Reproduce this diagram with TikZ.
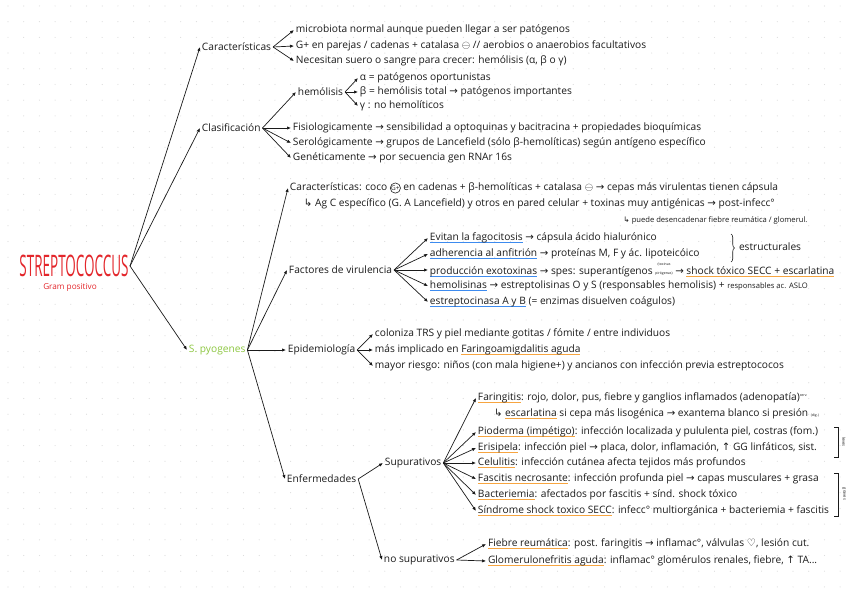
\documentclass[tikz,border=0pt]{standalone}
\usepackage{fontspec}
\setmainfont{Open Sans}
\newfontfamily\symfont{DejaVu Sans}
\usetikzlibrary{arrows.meta,decorations.pathreplacing}
\definecolor{strepRed}{HTML}{E3262B}
\definecolor{pyoGreen}{HTML}{8CC63F}
\definecolor{ulBlue}{HTML}{3D8BEF}
\definecolor{ulOrange}{HTML}{F7A540}
\definecolor{dotGrey}{HTML}{DDDDDD}
\definecolor{inkBlack}{HTML}{1A1A1A}
\newcommand{\ulmark}[2]{\setbox0\hbox{#2}\leavevmode\rlap{\color{#1}\rule[-2.4pt]{\wd0}{1.1pt}}\box0\relax}
\newcommand{\ub}[1]{\ulmark{ulBlue}{#1}}
\newcommand{\uo}[1]{\ulmark{ulOrange}{#1}}
\newcommand{\ra}{{\symfont →}}
\newcommand{\hk}{{\symfont ↳}}
\newcommand{\upa}{{\symfont ↑}}
\newcommand{\gpos}{\tikz[baseline=(gp.base)]\node[draw,circle,inner sep=0.2pt,line width=0.5pt,font=\fontsize{5.5}{5.5}\selectfont](gp){G+};}
\tikzset{
  mapnode/.style={font=\fontsize{8.7}{10}\selectfont, text=inkBlack, anchor=west, inner sep=1.5pt},
  smallnote/.style={font=\fontsize{6.5}{7}\selectfont, text=inkBlack, anchor=west, inner sep=1pt},
  tinynote/.style={font=\fontsize{3.5}{4}\selectfont, text=inkBlack, inner sep=0.5pt},
  maparrow/.style={-{Latex[length=1.2mm,width=1mm]}, line width=0.6pt, draw=inkBlack},
}

\begin{document}
\begin{tikzpicture}[x=0.03cm,y=-0.03cm]
  \useasboundingbox (0,0) rectangle (848,599);
  % dotted notebook page
  \foreach \i in {0,...,53} {
    \foreach \j in {0,...,37} {
      \fill[dotGrey] (8+\i*15.7, 6+\j*15.7) circle (0.6);
    }
  }

  % Root
  \node[anchor=east, inner sep=1pt, text=strepRed] (strep) at (130,266) {\scalebox{0.5}[1.1]{\fontsize{23}{23}\selectfont STREPTOCOCCUS}};
  \node[font=\fontsize{7}{8}\selectfont, text=strepRed] (gram) at (70,287) {Gram positivo};

  % Características
  \node[mapnode] (car) at (200,47) {Características};
  \node[mapnode] (car1) at (294,30) {microbiota normal aunque pueden llegar a ser patógenos};
  \node[mapnode] (car2) at (294,46) {G+ en parejas / cadenas + catalasa $\ominus$ // aerobios o anaerobios facultativos};
  \node[mapnode] (car3) at (294,61) {Necesitan suero o sangre para crecer: hemólisis (α, β o γ)};

  % Clasificación
  \node[mapnode] (clas) at (200,128) {Clasificación};
  \node[mapnode] (hemo) at (296,92) {hemólisis};
  \node[mapnode] (ha) at (358,78) {α = patógenos oportunistas};
  \node[mapnode] (hb) at (358,92) {β = hemólisis total \ra{} patógenos importantes};
  \node[mapnode] (hg) at (358,106) {γ : no hemolíticos};
  \node[mapnode] (fis) at (291,128) {Fisiologicamente \ra{} sensibilidad a optoquinas y bacitracina + propiedades bioquímicas};
  \node[mapnode] (sero) at (291,143) {Serológicamente \ra{} grupos de Lancefield (sólo β-hemolíticas) según antígeno específico};
  \node[mapnode] (gen) at (291,158) {Genéticamente \ra{} por secuencia gen RNAr 16s};

  % S. pyogenes
  \node[mapnode, text=pyoGreen] (pyo) at (187,350) {S. pyogenes};
  \node[mapnode] (pcar) at (288,188) {Características: coco \gpos{} en cadenas + β-hemolíticas + catalasa $\ominus$ \ra{} cepas más virulentas tienen cápsula};
  \node[mapnode] (pag) at (302,204) {\hk{} Ag C específico (G. A Lancefield) y otros en pared celular + toxinas muy antigénicas \ra{} post-infecc°};
  \node[smallnote] (pdes) at (622,220) {\hk{} puede desencadenar fiebre reumática / glomerul.};

  % Factores de virulencia
  \node[mapnode] (fact) at (287,270) {Factores de virulencia};
  \node[mapnode] (fv1) at (428,238) {\ub{Evitan la fagocitosis} \ra{} cápsula ácido hialurónico};
  \node[mapnode] (fv2) at (428,254) {\ub{adherencia al anfitrión} \ra{} proteínas M, F y ác. lipoteicóico};
  \node[mapnode] (fv3) at (428,270) {\ub{producción exotoxinas} \ra{} spes: superantígenos {\fontsize{3}{3.5}\selectfont\shortstack{(toxinas\\[1.3pt]pirógenas)}} \ra{} \uo{shock tóxico SECC + escarlatina}};
  \node[mapnode] (fv4) at (428,286) {\ub{hemolisinas} \ra{} estreptolisinas O y S (responsables hemolisis) + {\fontsize{6.5}{7}\selectfont responsables ac. ASLO}};
  \node[mapnode] (fv5) at (428,302) {\ub{estreptocinasa A y B} (= enzimas disuelven coágulos)};
  \draw[decorate, decoration={brace, amplitude=3pt}, line width=0.5pt, draw=inkBlack] (731,234) -- (731,262);
  \node[mapnode] (estr) at (737,247) {estructurales};

  % Epidemiología
  \node[mapnode] (epi) at (286,350) {Epidemiología};
  \node[mapnode] (ep1) at (373,334) {coloniza TRS y piel mediante gotitas / fómite / entre individuos};
  \node[mapnode] (ep2) at (373,350) {más implicado en \uo{Faringoamigdalitis aguda}};
  \node[mapnode] (ep3) at (373,366) {mayor riesgo: niños (con mala higiene+) y ancianos con infección previa estreptococos};

  % Enfermedades
  \node[mapnode] (enf) at (285,479) {Enfermedades};
  \node[mapnode] (sup) at (383,463) {Supurativos};
  \node[mapnode] (sp1) at (476,398) {\uo{Faringitis}: rojo, dolor, pus, fiebre y ganglios inflamados (adenopatía)\textsuperscript{\fontsize{3}{3}\selectfont cerv.}};
  \node[mapnode] (sp1b) at (492,414) {\hk{} \uo{escarlatina} si cepa más lisogénica \ra{} exantema blanco si presión {\fontsize{3}{3}\selectfont (dig.)}};
  \node[mapnode] (sp2) at (476,432) {\uo{Pioderma (impétigo)}: infección localizada y pululenta piel, costras (fom.)};
  \node[mapnode] (sp3) at (476,448) {\uo{Erisipela}: infección piel \ra{} placa, dolor, inflamación, \upa{} GG linfáticos, sist.};
  \node[mapnode] (sp4) at (476,463) {\uo{Celulitis}: infección cutánea afecta tejidos más profundos};
  \node[mapnode] (sp5) at (476,479) {\uo{Fascitis necrosante}: infección profunda piel \ra{} capas musculares + grasa};
  \node[mapnode] (sp6) at (476,495) {\uo{Bacteriemia}: afectados por fascitis + sínd. shock tóxico};
  \node[mapnode] (sp7) at (476,511) {\uo{Síndrome shock toxico SECC}: infecc° multiorgánica + bacteriemia + fascitis};
  \draw[line width=0.5pt, draw=inkBlack] (834,427) -- (838,427) -- (838,457) -- (834,457);
  \draw[line width=0.5pt, draw=inkBlack] (834,473) -- (838,473) -- (838,516) -- (834,516);
  \node[tinynote, rotate=-90] (lev) at (844,442) {leves};
  \node[tinynote, rotate=-90] (grv) at (844,494) {graves};
  \node[mapnode] (nosup) at (382,560) {no supurativos};
  \node[mapnode] (ns1) at (486,544) {\uo{Fiebre reumática}: post. faringitis \ra{} inflamac°, válvulas {\symfont ♡}, lesión cut.};
  \node[mapnode] (ns2) at (486,561) {\uo{Glomerulonefritis aguda}: inflamac° glomérulos renales, fiebre, \upa{} TA...};

  % Connections
  \foreach \t in {car,clas,pyo} \draw[maparrow] (strep.east) -- (\t.west);
  \foreach \t in {car1,car2,car3} \draw[maparrow] (car.east) -- (\t.west);
  \foreach \t in {hemo,fis,sero,gen} \draw[maparrow] (clas.east) -- (\t.west);
  \foreach \t in {ha,hb,hg} \draw[maparrow] (hemo.east) -- (\t.west);
  \foreach \t in {pcar,fact,epi,enf} \draw[maparrow] (pyo.east) -- (\t.west);
  \foreach \t in {fv1,fv2,fv3,fv4,fv5} \draw[maparrow] (fact.east) -- (\t.west);
  \foreach \t in {ep1,ep2,ep3} \draw[maparrow] (epi.east) -- (\t.west);
  \foreach \t in {sup,nosup} \draw[maparrow] (enf.east) -- (\t.west);
  \foreach \t in {sp1,sp2,sp3,sp4,sp5,sp6,sp7} \draw[maparrow] (sup.east) -- (\t.west);
  \foreach \t in {ns1,ns2} \draw[maparrow] (nosup.east) -- (\t.west);
\end{tikzpicture}
\end{document}
